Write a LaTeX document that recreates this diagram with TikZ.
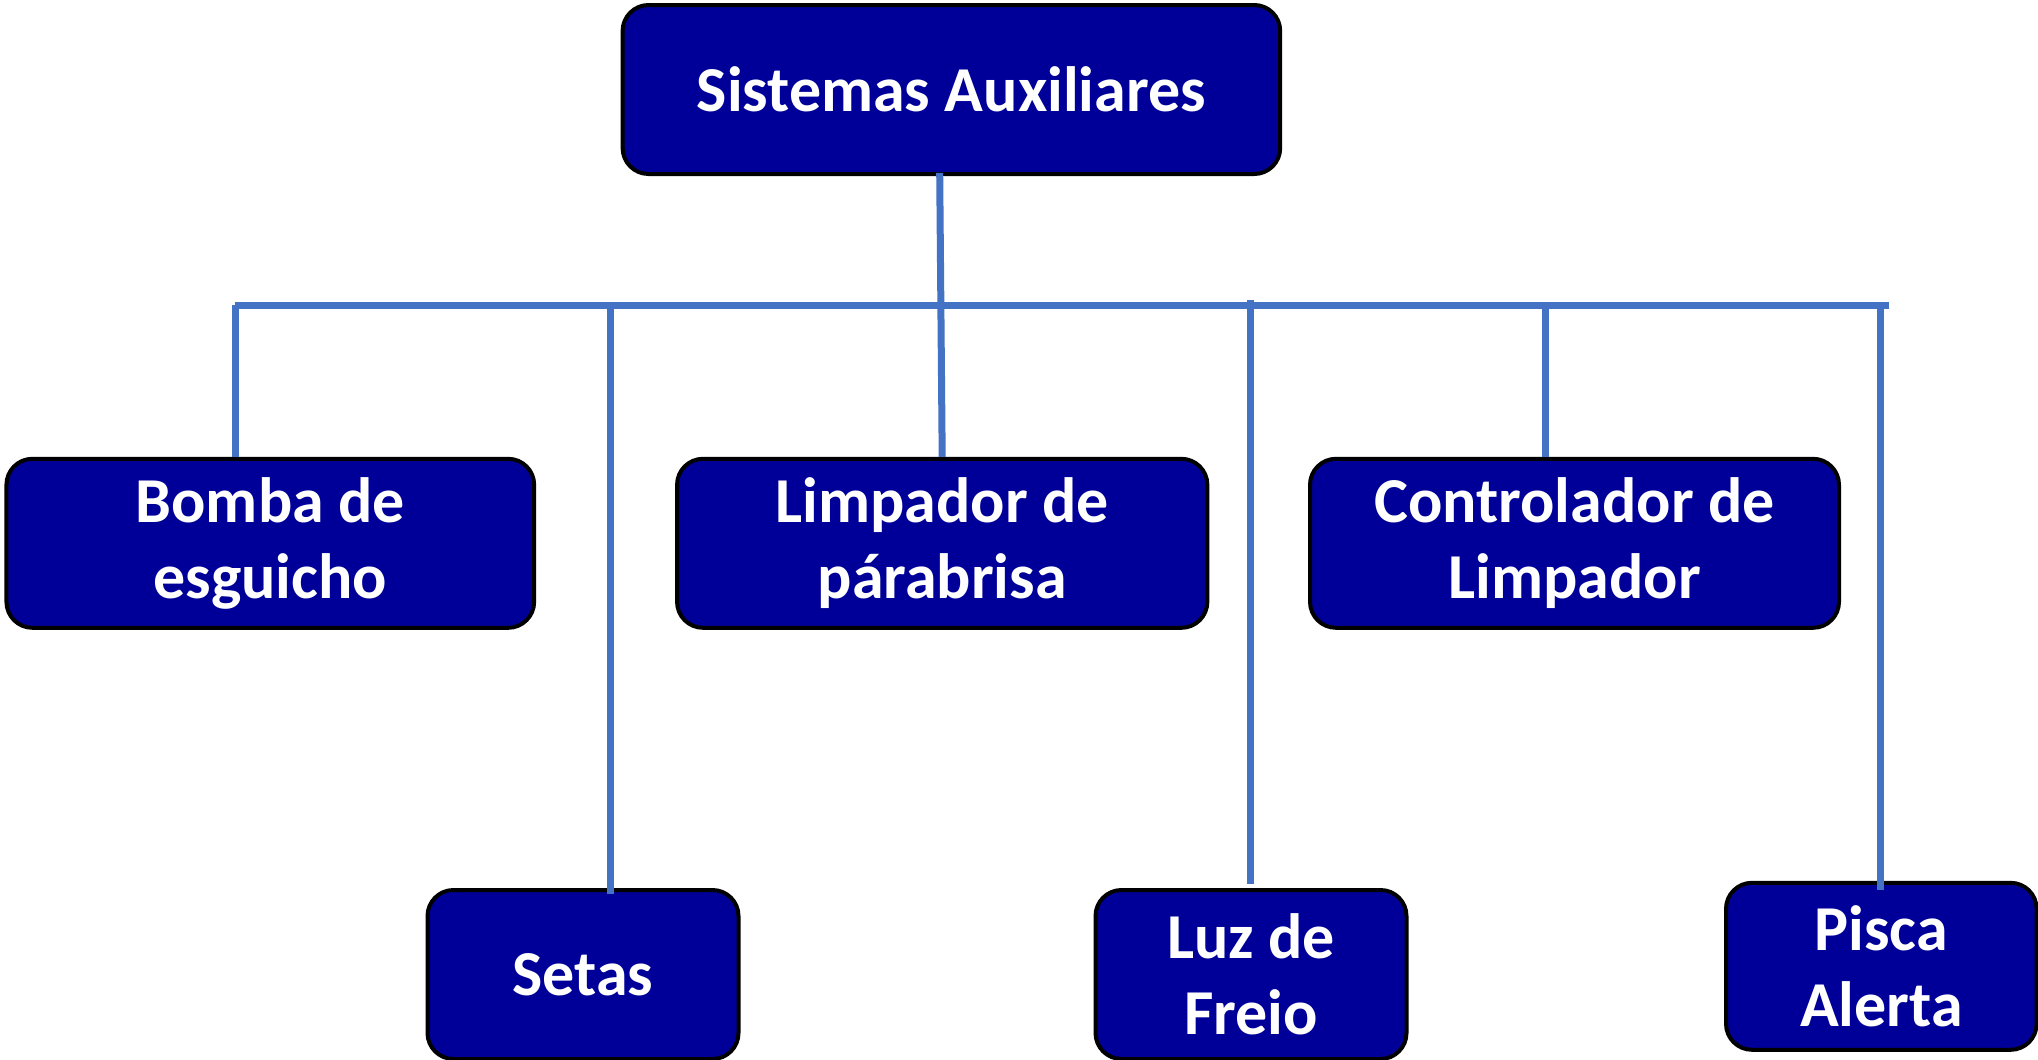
\documentclass[tikz,border=0pt]{standalone}
\usepackage{fontspec}
\setmainfont{Carlito}
\definecolor{boxblue}{HTML}{000099}
\definecolor{linkblue}{HTML}{4472C4}
\begin{document}
\begin{tikzpicture}[x=1pt,y=-1pt,
  box/.style={draw=black, line width=4pt, fill=boxblue, rounded corners=26pt,
    text=white, font=\fontsize{64}{76}\selectfont\bfseries, align=center,
    minimum height=169pt, inner sep=0pt},
  link/.style={draw=linkblue, line width=7pt}]
\fill[white] (0,0) rectangle (2038,1060);
\useasboundingbox (0,0) rectangle (2038,1060);

\node[box, minimum width=657.6pt] (top) at (951.4,89.5) {Sistemas Auxiliares};
\node[box, minimum width=527.7pt] (bomba) at (270.3,543.3) {Bomba de\\esguicho};
\node[box, minimum width=530.3pt] (limp) at (942.2,543.3) {Limpador de\\párabrisa};
\node[box, minimum width=529pt] (ctrl) at (1574.5,543.3) {Controlador de\\Limpador};
\node[box, minimum width=311pt] (setas) at (583,974.5) {Setas};
\node[box, minimum width=311pt] (luz) at (1251,974.5) {Luz de\\Freio};
\node[box, minimum width=310.6pt, minimum height=167pt] (pisca) at (1881.3,966.3) {Pisca\\Alerta};

\coordinate (busL) at (235.2,305.4);
\coordinate (busR) at (1888.5,305.4);
\coordinate (sT) at (610.9,305.4);
\coordinate (sB) at (610.9,894);
\coordinate (lT) at (1250.3,300);
\coordinate (lB) at (1250.3,884);
\coordinate (cT) at (1545.4,305.4);
\coordinate (pT) at (1880.7,305.4);
\coordinate (pB) at (1880.7,890);
\coordinate (tB) at (939.7,172.9);

\draw[link] (busL) -- (busR);
\draw[link] (tB) -- (limp.north);
\draw[link] (busL) -- (busL |- bomba.north);
\draw[link] (sT) -- (sB);
\draw[link] (lT) -- (lB);
\draw[link] (cT) -- (cT |- ctrl.north);
\draw[link] (pT) -- (pB);
\end{tikzpicture}
\end{document}
